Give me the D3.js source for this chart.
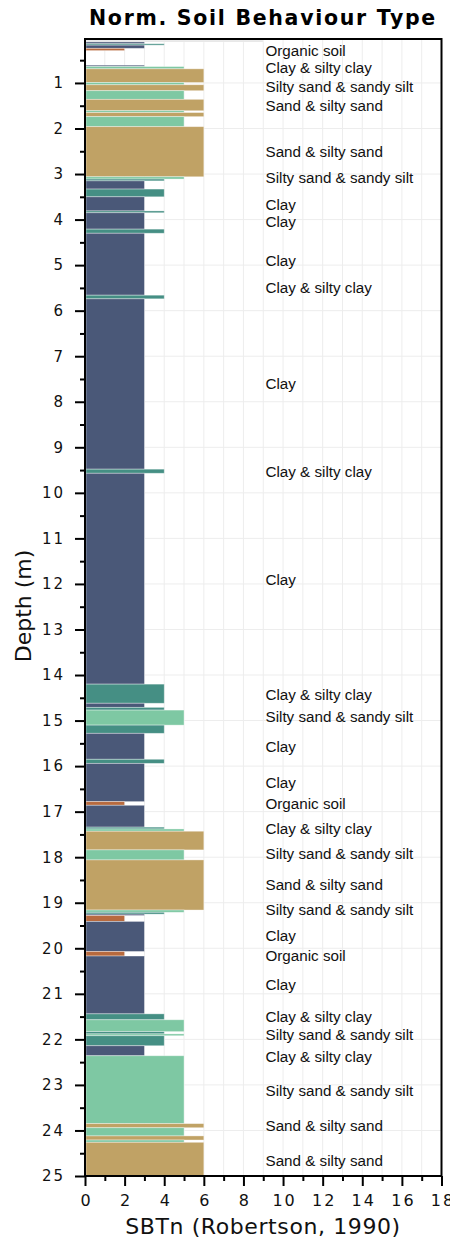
<!DOCTYPE html>
<html>
<head>
<meta charset="utf-8">
<script src="https://cdn.jsdelivr.net/npm/d3@7"></script>
<style>
  html, body { margin: 0; padding: 0; background: #fff; }
  svg { display: block; }
</style>
</head>
<body>
<svg id="chart" width="450" height="1241"></svg>
<script>
// ---- data ----
const layerTop    = [0.035,0.06,0.10,0.14,0.17,0.24, 0.61,0.64,0.69,0.99,1.04,1.17,1.36,1.61,1.65,1.74,1.96,3.06,3.11,3.15,3.33,3.50,3.81,3.85,4.21,4.30,5.66,5.74,9.48,9.57,14.20,14.62,14.71,14.77,15.10,15.28,15.85,15.94,16.78,16.86,17.34,17.38,17.43,17.84,18.06,19.16,19.21,19.25,19.28,19.41,20.07,20.17,21.44,21.57,21.83,21.88,21.92,22.14,22.36,23.85,23.94,24.12,24.21,24.26];
const layerBottom = [0.06,0.10,0.14,0.17,0.24,0.29, 0.64,0.69,0.99,1.04,1.17,1.36,1.61,1.65,1.74,1.96,3.06,3.11,3.15,3.33,3.50,3.81,3.85,4.21,4.30,5.66,5.74,9.48,9.57,14.20,14.62,14.71,14.77,15.10,15.28,15.85,15.94,16.78,16.86,17.34,17.38,17.43,17.84,18.06,19.16,19.21,19.25,19.28,19.41,20.07,20.17,21.44,21.57,21.83,21.88,21.92,22.14,22.36,23.85,23.94,24.12,24.21,24.26,25.00];
const layerSBTn   = [3,9,3,4,3,2, 3,5,6,5,6,5,6,5,6,5,6,5,4,3,4,3,4,3,4,3,4,3,4,3,4,3,4,5,4,3,4,3,2,3,4,5,6,5,6,5,4,3,2,3,2,3,4,5,4,5,4,3,5,6,5,6,5,6];

const sbtCodes  = [2,3,4,5,6,9];
const sbtColors = ["#b86a3e","#4a5878","#458f84","#7ec8a3","#c0a265","#e2e2e2"];

const labelText  = ["Organic soil","Clay & silty clay","Silty sand & sandy silt","Sand & silty sand","Sand & silty sand","Silty sand & sandy silt","Clay","Clay","Clay","Clay & silty clay","Clay","Clay & silty clay","Clay","Clay & silty clay","Silty sand & sandy silt","Clay","Clay","Organic soil","Clay & silty clay","Silty sand & sandy silt","Sand & silty sand","Silty sand & sandy silt","Clay","Organic soil","Clay","Clay & silty clay","Silty sand & sandy silt","Clay & silty clay","Silty sand & sandy silt","Sand & silty sand","Sand & silty sand"];
const labelDepth = [0.28,0.67,1.07,1.50,2.51,3.08,3.66,4.05,4.89,5.50,7.61,9.53,11.91,14.42,14.91,15.56,16.36,16.83,17.36,17.93,18.59,19.16,19.73,20.15,20.79,21.50,21.89,22.38,23.12,23.89,24.65];

const xTickMajor = [0,2,4,6,8,10,12,14,16,18];
const xTickMinor = [1,3,5,7,9,11,13,15,17];
const yTickMajor = d3.range(1,26);
const yTickMinor = d3.range(0.5,25,1);
const xDomain = [0,18];
const yDomain = [0.035,25];

// ---- layout ----
const W = 450, H = 1241;
const m = {left: 85, right: 8.5, top: 39, bottom: 65};
const svg = d3.select("#chart");

const x = d3.scaleLinear().domain(xDomain).range([m.left, W - m.right]);
const y = d3.scaleLinear().domain(yDomain).range([m.top, H - m.bottom]);
const color = d3.scaleOrdinal().domain(sbtCodes).range(sbtColors);

const layers = layerTop.map((t,i) => ({top:t, bottom:layerBottom[i], v:layerSBTn[i]}));
const labels = labelText.map((t,i) => ({text:t, d:labelDepth[i]}));

// grid
const grid = svg.append("g").attr("stroke", "#ededed").attr("stroke-width", 1);
grid.selectAll("line.v").data(d3.range(1,18)).join("line")
  .attr("x1", d => x(d)).attr("x2", d => x(d))
  .attr("y1", m.top).attr("y2", H - m.bottom);
grid.selectAll("line.h").data(yTickMajor.slice(0,-1)).join("line")
  .attr("x1", m.left).attr("x2", W - m.right)
  .attr("y1", d => y(d)).attr("y2", d => y(d));

// bars
svg.append("g").selectAll("rect").data(layers).join("rect")
  .attr("x", x(0) + 1)
  .attr("y", d => y(d.top))
  .attr("width", d => x(d.v) - x(0) - 1)
  .attr("height", d => y(d.bottom) - y(d.top))
  .attr("fill", d => color(d.v))
  .attr("stroke", "rgba(255,255,255,0.45)")
  .attr("stroke-width", 0.8);

// labels
svg.append("g").selectAll("text").data(labels).join("text")
  .attr("x", 265.5)
  .attr("y", d => y(d.d))
  .attr("dy", "0.36em")
  .attr("font-family", "'Liberation Sans', Arial, sans-serif")
  .attr("font-size", 15.2)
  .attr("fill", "#111")
  .text(d => d.text);

// axes
const tickFont = "'DejaVu Sans', Verdana, sans-serif";
const yAx = svg.append("g").attr("transform", `translate(${m.left},0)`)
  .call(d3.axisLeft(y).tickValues(yTickMajor).tickSize(10).tickPadding(8).tickFormat(d3.format("d")));
const yAxMinor = svg.append("g").attr("transform", `translate(${m.left},0)`)
  .call(d3.axisLeft(y).tickValues(yTickMinor).tickSize(5).tickFormat(""));
const xAx = svg.append("g").attr("transform", `translate(0,${H - m.bottom})`)
  .call(d3.axisBottom(x).tickValues(xTickMajor).tickSize(10).tickPadding(9).tickFormat(d3.format("d")));
const xAxMinor = svg.append("g").attr("transform", `translate(0,${H - m.bottom})`)
  .call(d3.axisBottom(x).tickValues(xTickMinor).tickSize(5).tickFormat(""));

[yAx, yAxMinor, xAx, xAxMinor].forEach(g => {
  g.select(".domain").remove();
  g.selectAll(".tick line").attr("stroke", "#000").attr("stroke-width", 2);
  g.selectAll(".tick text").attr("font-family", tickFont).attr("fill", "#111")
    .attr("letter-spacing", "2px");
});
yAx.selectAll(".tick text").attr("font-size", 15).attr("dx", "-2px");
xAx.selectAll(".tick text").attr("font-size", 16).attr("dx", "1px");

// frame
svg.append("rect")
  .attr("x", m.left).attr("y", m.top)
  .attr("width", W - m.right - m.left).attr("height", H - m.bottom - m.top)
  .attr("fill", "none").attr("stroke", "#000").attr("stroke-width", 2);

// titles
svg.append("text")
  .attr("x", 263).attr("y", 25)
  .attr("text-anchor", "middle")
  .attr("font-family", tickFont).attr("font-weight", "bold")
  .attr("font-size", 20.5).attr("letter-spacing", "1.7px")
  .attr("fill", "#000")
  .text("Norm. Soil Behaviour Type");

svg.append("text")
  .attr("x", 263).attr("y", 1234)
  .attr("text-anchor", "middle")
  .attr("font-family", tickFont)
  .attr("font-size", 22).attr("letter-spacing", "0.6px")
  .attr("fill", "#111")
  .text("SBTn (Robertson, 1990)");

svg.append("text")
  .attr("transform", "translate(31,606) rotate(-90)")
  .attr("text-anchor", "middle")
  .attr("font-family", tickFont)
  .attr("font-size", 22)
  .attr("fill", "#111")
  .text("Depth (m)");
</script>
</body>
</html>
